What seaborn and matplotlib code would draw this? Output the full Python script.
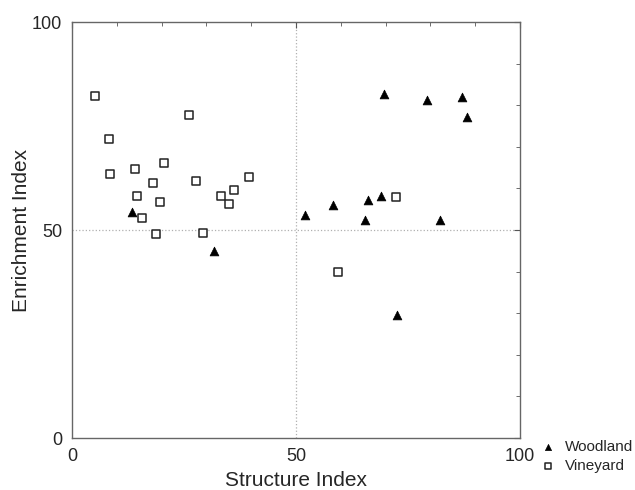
import pandas as pd
import numpy as np
import matplotlib.pyplot as plt
import seaborn as sns
from matplotlib.ticker import MultipleLocator

# Woodland (filled triangles)
wood_si = [13.5, 31.7, 52.0, 58.3, 65.3, 66.0, 68.9, 69.7, 79.2, 87.1, 88.2, 82.1, 72.5]
wood_ei = [54.3, 45.0, 53.7, 56.0, 52.3, 57.1, 58.2, 82.7, 81.2, 82.0, 77.2, 52.3, 29.6]

# Vineyard (open squares)
vine_si = [5.1, 8.3, 8.5, 14.1, 14.4, 15.6, 18.1, 19.6, 18.8, 20.6, 26.1, 27.7,
           29.2, 33.2, 35.0, 36.2, 39.4, 72.4, 59.4]
vine_ei = [82.2, 71.9, 63.5, 64.7, 58.2, 52.9, 61.2, 56.7, 49.1, 66.0, 77.6, 61.8,
           49.3, 58.1, 56.3, 59.5, 62.8, 57.9, 39.9]

df_w = pd.DataFrame({'Structure Index': wood_si, 'Enrichment Index': wood_ei})
df_v = pd.DataFrame({'Structure Index': vine_si, 'Enrichment Index': vine_ei})

sns.set_style('white')
plt.rcParams['font.family'] = ['Liberation Sans', 'DejaVu Sans']

fig = plt.figure(figsize=(6.35, 4.9), dpi=100)
ax = fig.add_axes([72 / 635, 52 / 490, 448 / 635, 416 / 490])

ax.axvline(50, color='#b0b0b0', linestyle=':', linewidth=0.9, zorder=0)
ax.axhline(50, color='#b0b0b0', linestyle=':', linewidth=0.9, zorder=0)

sns.scatterplot(data=df_w, x='Structure Index', y='Enrichment Index', ax=ax,
                marker='^', s=40, color='black', edgecolor='black', linewidth=0.5,
                label='Woodland', legend=False)
sns.scatterplot(data=df_v, x='Structure Index', y='Enrichment Index', ax=ax,
                marker='s', s=38, facecolor='white', edgecolor='#222222', linewidth=1.1,
                label='Vineyard', legend=False)

ax.set_xlim(0, 100)
ax.set_ylim(0, 100)
ax.xaxis.set_major_locator(MultipleLocator(50))
ax.yaxis.set_major_locator(MultipleLocator(50))
ax.xaxis.set_minor_locator(MultipleLocator(10))
ax.yaxis.set_minor_locator(MultipleLocator(10))
ax.tick_params(which='both', direction='in', top=True, right=True,
               color='#555555', labelsize=13)
ax.tick_params(which='major', length=4, width=0.8)
ax.tick_params(which='minor', length=3, width=0.6)
ax.tick_params(axis='x', pad=7.5)
ax.tick_params(axis='y', pad=7)
for sp in ax.spines.values():
    sp.set_color('#666666')
    sp.set_linewidth(1.0)

ax.set_xlabel('Structure Index', fontsize=15, labelpad=4)
ax.set_ylabel('Enrichment Index', fontsize=15, labelpad=1)

handles, labels = ax.get_legend_handles_labels()
fig.legend(handles, labels, loc='upper left', bbox_to_anchor=(527 / 635, 1 - 434 / 490),
           frameon=False, fontsize=11, handletextpad=0.1, labelspacing=0.3,
           markerscale=0.7, borderaxespad=0)

plt.savefig('out.png', dpi=100)
